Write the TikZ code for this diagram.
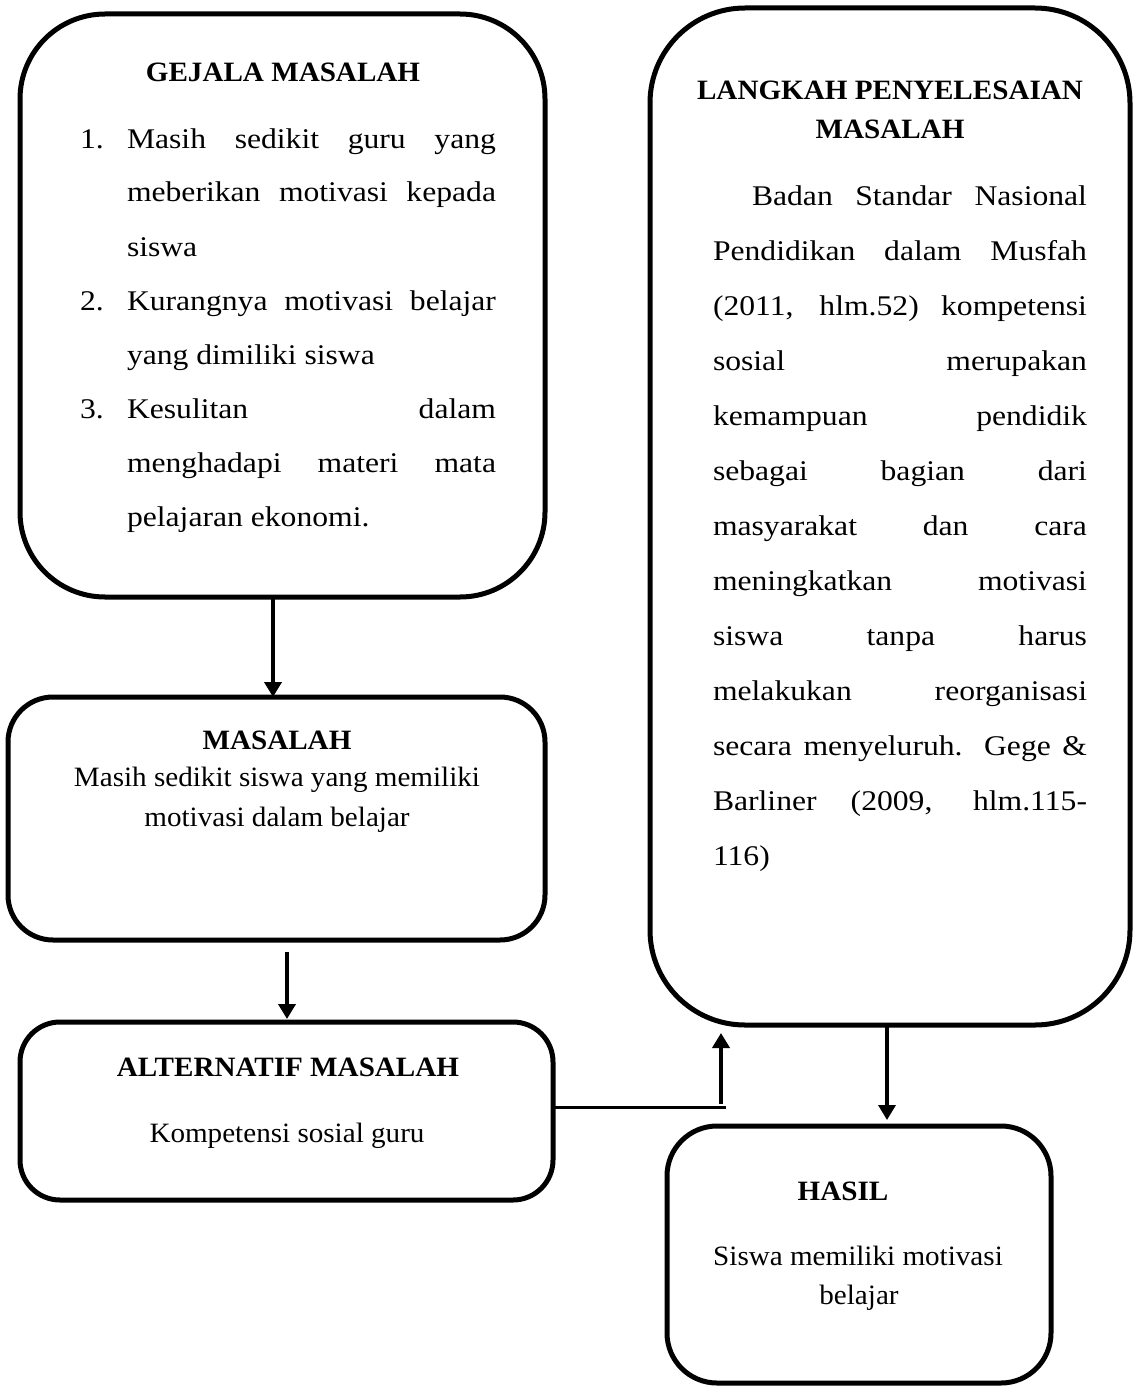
\documentclass[tikz,border=0pt]{standalone}
\usepackage{fontspec}
\setmainfont[FakeStretch=1.04]{Liberation Serif}
\newfontfamily\widefont[FakeStretch=1.11]{Liberation Serif}
\usetikzlibrary{arrows.meta}
\tikzset{
  box/.style={draw, line width=5pt, rounded corners=#1, inner sep=0pt, outer sep=0pt},
  box/.default=40pt,
  txt/.style={inner sep=0pt, outer sep=0pt, font=\fontsize{28}{34}\selectfont},
  head/.style={inner sep=0pt, outer sep=0pt, font=\fontsize{28}{34}\selectfont\bfseries},
  wtxt/.style={inner sep=0pt, outer sep=0pt, font=\widefont\fontsize{28.5}{54}\selectfont},
  rtxt/.style={inner sep=0pt, outer sep=0pt, font=\widefont\fontsize{28.5}{55}\selectfont},
  arr/.style={line width=4pt, -{Triangle[length=15pt,width=17pt]}},
}
\begin{document}
\begin{tikzpicture}[x=1pt,y=-1pt]
\useasboundingbox (0,0) rectangle (1133,1386);

% boxes
\node[box=85pt, minimum width=525pt, minimum height=583pt] (gejala) at (282.5,305.5) {};
\node[box=45pt, minimum width=537pt, minimum height=243pt] (masalah) at (276.5,818.5) {};
\node[box=40pt, minimum width=533pt, minimum height=178pt] (alt) at (286.5,1111) {};
\node[box=95pt, minimum width=480pt, minimum height=1017pt] (langkah) at (890,516.5) {};
\node[box=50pt, minimum width=384pt, minimum height=257pt] (hasil) at (859,1254.5) {};

% box 1 text
\node[head, anchor=base] (gh) at (283,82) {GEJALA MASALAH};
\node[wtxt, anchor=base west] (n1) at (80,148) {1.};
\node[wtxt, anchor=base west] (n2) at (80,310) {2.};
\node[wtxt, anchor=base west] (n3) at (80,418) {3.};
\node[wtxt, anchor=base west] (glist) at (127,148) {\parbox[t]{369pt}{%
\makebox[369pt][s]{Masih sedikit guru yang}\\
\makebox[369pt][s]{meberikan motivasi kepada}\\
siswa\\
\makebox[369pt][s]{Kurangnya motivasi belajar}\\
yang dimiliki siswa\\
\makebox[369pt][s]{Kesulitan dalam}\\
\makebox[369pt][s]{menghadapi materi mata}\\
pelajaran ekonomi.}};

% box 2 text
\node[head, anchor=base] (mh) at (277,749) {MASALAH};
\node[txt, anchor=base] (mb1) at (277,786) {Masih sedikit siswa yang memiliki};
\node[txt, anchor=base] (mb2) at (277,826) {motivasi dalam belajar};

% box 3 text
\node[head, anchor=base] (ah) at (288,1076) {ALTERNATIF MASALAH};
\node[txt, anchor=base] (ab) at (287,1142) {Kompetensi sosial guru};

% box 4 text
\node[head, anchor=base] (lh1) at (890,100) {LANGKAH PENYELESAIAN};
\node[head, anchor=base] (lh2) at (890,139) {MASALAH};
\node[rtxt, anchor=base west] (lbody) at (713,205) {\parbox[t]{374pt}{%
\makebox[374pt][s]{\hspace*{39pt}Badan Standar Nasional}\\
\makebox[374pt][s]{Pendidikan dalam Musfah}\\
\makebox[374pt][s]{(2011, hlm.52) kompetensi}\\
\makebox[374pt][s]{sosial merupakan}\\
\makebox[374pt][s]{kemampuan pendidik}\\
\makebox[374pt][s]{sebagai bagian dari}\\
\makebox[374pt][s]{masyarakat dan cara}\\
\makebox[374pt][s]{meningkatkan motivasi}\\
\makebox[374pt][s]{siswa tanpa harus}\\
\makebox[374pt][s]{melakukan reorganisasi}\\
\makebox[374pt][s]{secara menyeluruh. Gege \&}\\
\makebox[374pt][s]{Barliner (2009, hlm.115-}\\
116)}};

% box 5 text
\node[head, anchor=base] (hh) at (843,1200) {HASIL};
\node[txt, anchor=base] (hb1) at (858,1265) {Siswa memiliki motivasi};
\node[txt, anchor=base] (hb2) at (859,1304) {belajar};

% connectors
\coordinate (c1) at (273,0);
\draw[arr] (gejala.south -| c1) -- (masalah.north -| c1);
\coordinate (c2) at (287,952);
\draw[arr, shorten >=3pt] (c2) -- (alt.north -| c2);
\coordinate (j) at (726,1107);
\draw[line width=3pt] (alt.east |- j) -- (j);
\coordinate (u) at (721,1104);
\draw[arr, line width=4.5pt, shorten >=8pt] (u) -- (langkah.south -| u);
\coordinate (c4) at (887,0);
\draw[arr, line width=3.5pt, shorten >=6pt] (langkah.south -| c4) -- (hasil.north -| c4);
\end{tikzpicture}
\end{document}
